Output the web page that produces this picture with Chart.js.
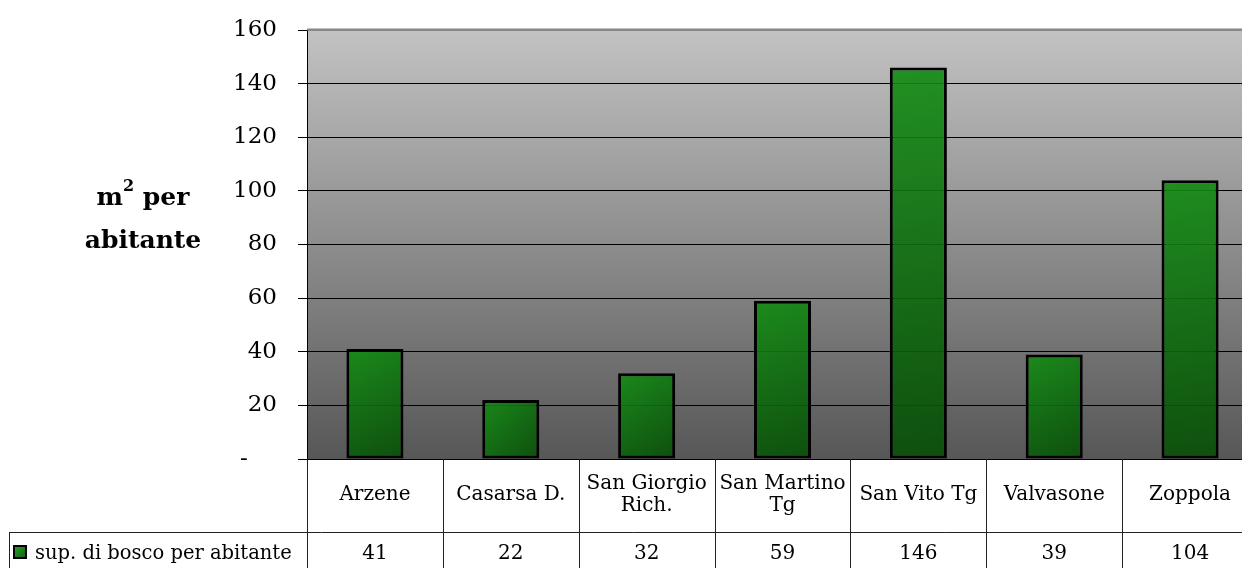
<!DOCTYPE html>
<html>
<head>
<meta charset="utf-8">
<script src="https://cdn.jsdelivr.net/npm/chart.js@4/dist/chart.umd.min.js"></script>
<style>
html, body { margin: 0; padding: 0; background: #fff; overflow: hidden; }
#wrap { width: 1262px; height: 568px; }
</style>
</head>
<body>
<div id="wrap"><canvas id="chart" width="1262" height="568"></canvas></div>
<script>
const categories = ['Arzene', 'Casarsa D.', ['San Giorgio', 'Rich.'], ['San Martino', 'Tg'], 'San Vito Tg', 'Valvasone', 'Zoppola'];
const values = [41, 22, 32, 59, 146, 39, 104];
const seriesName = 'sup. di bosco per abitante';
const yMin = 0;
const yMax = 160;
const yStep = 20;

const FONT = "'DejaVu Serif', serif";

// per-bar diagonal gradient, light top-left to dark bottom-right
function barFill(ctx) {
    const chart = ctx.chart;
    const area = chart.chartArea;
    if (!area || !chart.scales.x || ctx.dataIndex === undefined) return 'rgba(16,130,16,0.9)';
    const xs = chart.scales.x, ys = chart.scales.y;
    const cx = xs.getPixelForValue(ctx.dataIndex);
    const top = ys.getPixelForValue(values[ctx.dataIndex]);
    const half = 29;
    const g = chart.ctx.createLinearGradient(cx - half, top, cx + half, area.bottom);
    g.addColorStop(0, 'rgba(18,140,18,0.9)');
    g.addColorStop(1, 'rgba(6,78,6,0.9)');
    return g;
}

// background gradient + data table + y title
const tablePlugin = {
    id: 'tablePlugin',
    beforeDraw(chart) {
        const { ctx, chartArea: a } = chart;
        const g = ctx.createLinearGradient(0, a.top, 0, a.bottom);
        g.addColorStop(0, '#c2c2c2');
        g.addColorStop(1, '#575757');
        ctx.save();
        ctx.fillStyle = g;
        ctx.fillRect(a.left, a.top, a.right - a.left, a.bottom - a.top);
        ctx.restore();
    },
    afterDraw(chart) {
        const { ctx, chartArea: a } = chart;
        const xs = chart.scales.x;
        const colW = xs.getPixelForValue(1) - xs.getPixelForValue(0);
        const H = chart.height;
        const row2 = a.bottom + 73;
        ctx.save();
        // top border of plot area
        ctx.strokeStyle = '#888';
        ctx.lineWidth = 2;
        ctx.beginPath();
        ctx.moveTo(a.left, a.top - 0.5);
        ctx.lineTo(a.right, a.top - 0.5);
        ctx.stroke();

        ctx.strokeStyle = '#222';
        ctx.lineWidth = 1;
        ctx.beginPath();
        for (let i = 0; i <= categories.length; i++) {
            const x = Math.round(a.left + i * colW) + 0.5;
            ctx.moveTo(x, a.bottom);
            ctx.lineTo(x, H);
        }
        ctx.moveTo(9.5, row2 + 0.5);
        ctx.lineTo(a.right, row2 + 0.5);
        ctx.moveTo(9.5, row2);
        ctx.lineTo(9.5, H);
        ctx.stroke();

        ctx.fillStyle = '#000';
        ctx.textAlign = 'center';
        ctx.textBaseline = 'middle';
        ctx.font = '20px ' + FONT;
        categories.forEach((c, i) => {
            const cx = xs.getPixelForValue(i);
            const lines = Array.isArray(c) ? c : [c];
            const lh = 22;
            const y0 = a.bottom + 36 - (lines.length - 1) * lh / 2;
            lines.forEach((t, j) => ctx.fillText(t, cx, y0 + j * lh));
        });
        values.forEach((v, i) => {
            ctx.fillText(String(v), xs.getPixelForValue(i), row2 + 22);
        });

        // legend key
        const kg = ctx.createLinearGradient(13, 545, 27, 559);
        kg.addColorStop(0, '#2ea82e');
        kg.addColorStop(1, '#0b5a0b');
        ctx.fillStyle = kg;
        ctx.fillRect(14, 546, 12, 12);
        ctx.strokeStyle = '#000';
        ctx.lineWidth = 2;
        ctx.strokeRect(14, 546, 12, 12);
        ctx.fillStyle = '#000';
        ctx.textAlign = 'left';
        ctx.font = '19.5px ' + FONT;
        ctx.fillText(seriesName, 35, row2 + 22);

        // y axis title
        ctx.font = 'bold 25px ' + FONT;
        ctx.textBaseline = 'alphabetic';
        const l1a = 'm', sup = '2', l1b = ' per';
        const wA = ctx.measureText(l1a).width;
        const wB = ctx.measureText(l1b).width;
        ctx.font = 'bold 16px ' + FONT;
        const wS = ctx.measureText(sup).width;
        const cx = 143;
        let x = cx - (wA + wS + wB) / 2;
        ctx.font = 'bold 25px ' + FONT;
        ctx.fillText(l1a, x, 205);
        ctx.font = 'bold 16px ' + FONT;
        ctx.fillText(sup, x + wA, 191);
        ctx.font = 'bold 25px ' + FONT;
        ctx.fillText(l1b, x + wA + wS, 205);
        ctx.textAlign = 'center';
        ctx.fillText('abitante', cx, 248);
        ctx.restore();
    }
};

new Chart(document.getElementById('chart'), {
    type: 'bar',
    data: {
        labels: categories,
        datasets: [{
            label: seriesName,
            data: values,
            backgroundColor: barFill,
            borderColor: '#000',
            borderWidth: 3,
            borderSkipped: false,
            barPercentage: 0.42,
            categoryPercentage: 1
        }]
    },
    options: {
        responsive: false,
        devicePixelRatio: 1,
        animation: false,
        layout: { padding: { top: 30, bottom: 109, left: 0, right: 4 } },
        plugins: { legend: { display: false }, tooltip: { enabled: false } },
        scales: {
            x: {
                display: false
            },
            y: {
                min: yMin,
                max: yMax,
                afterFit(scale) {
                    scale.width = 307;
                    scale.paddingTop = 0;
                    scale.paddingBottom = 0;
                },
                ticks: {
                    stepSize: yStep,
                    color: '#000',
                    padding: 21,
                    font: { family: FONT, size: 23 },
                    callback: v => v === 0 ? '-\u2007\u2007' : String(v)
                },
                grid: {
                    color: c => c.tick && c.tick.value === yMax ? '#888' : '#000',
                    lineWidth: 1,
                    tickLength: 9,
                    tickColor: '#000'
                },
                border: { display: true, color: '#000', width: 1 }
            }
        }
    },
    plugins: [tablePlugin]
});
</script>
</body>
</html>
